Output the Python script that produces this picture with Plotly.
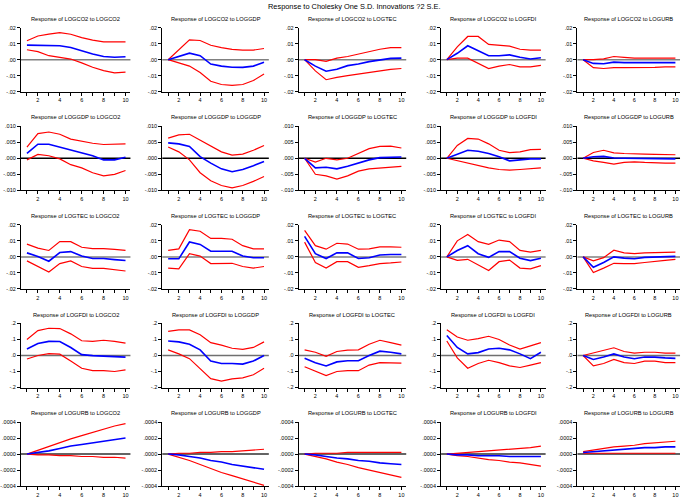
import plotly.graph_objects as go
from plotly.subplots import make_subplots

periods = list(range(1, 11))
variables = ['LOGCO2', 'LOGGDP', 'LOGTEC', 'LOGFDI', 'LOGURB']

# y tick values / labels per response row
row_ticks = [
    ([-0.02, -0.01, 0, 0.01, 0.02], ['-.02', '-.01', '.00', '.01', '.02']),
    ([-0.01, -0.005, 0, 0.005, 0.01], ['-.010', '-.005', '.000', '.005', '.010']),
    ([-0.02, -0.01, 0, 0.01, 0.02], ['-.02', '-.01', '.00', '.01', '.02']),
    ([-0.2, -0.1, 0, 0.1, 0.2], ['-.2', '-.1', '.0', '.1', '.2']),
    ([-0.0004, -0.0002, 0, 0.0002, 0.0004], ['-.0004', '-.0002', '.0000', '.0002', '.0004']),
]

# impulse responses (blue) and +/- 2 S.E. bands (red), [row][col]
resp = [
    [
        [.0091, .0091, .0089, .0087, .0076, .0056, .0035, .0020, .0015, .0018],
        [0, .002, .0041, .0025, -.0027, -.004, -.0047, -.0048, -.004, -.0016],
        [0, -.004, -.0072, -.006, -.0037, -.0027, -.0012, 0, .0008, .001],
        [0, .004, .0087, .0056, .0025, .0025, .003, .0015, .0004, .0012],
        [0, -.0023, -.0025, -.0015, -.0018, -.0018, -.002, -.002, -.0018, -.0018],
    ],
    [
        [.0015, .0044, .0044, .0035, .0025, .0015, .0008, -.0005, -.0005, .0003],
        [.0048, .0045, .0037, .0005, -.0015, -.0033, -.0042, -.0035, -.0023, -.001],
        [0, -.003, -.0028, -.0033, -.0025, -.0015, -.0005, .0002, .0004, .0004],
        [0, .0013, .0025, .0022, .0015, .0005, -.0008, -.0005, -.0002, -.0002],
        [0, .0005, .0006, .0001, 0, 0, 0, -.0002, -.0002, -.0002],
    ],
    [
        [.0025, .0002, -.0027, .0027, .0033, .0005, -.001, -.001, -.0017, -.0023],
        [-.0012, -.0012, .0093, .0078, .0035, .0035, .0035, .0005, -.0005, -.0005],
        [.0128, .002, -.001, .0025, .0025, -.001, -.0005, .0012, .0015, .0015],
        [0, .004, .007, .002, -.0003, .0033, .0033, -.0008, -.0023, -.0008],
        [0, -.0065, -.0035, 0, -.0008, -.0012, -.0003, 0, .0003, .0003],
    ],
    [
        [.04, .075, .088, .087, .05, .005, -.001, -.003, -.007, -.01],
        [.09, .085, .07, .035, -.035, -.05, -.05, -.054, -.035, 0],
        [-.018, -.045, -.065, -.04, -.033, -.033, 0, .027, .02, .01],
        [.125, .05, .01, .018, .04, .045, .035, .01, -.02, .02],
        [0, -.025, -.01, .01, -.01, -.02, -.01, -.01, -.015, -.018],
    ],
    [
        [0, .00002, .00004, .00007, .0001, .00012, .00014, .00016, .00018, .0002],
        [0, -.00001, -.00003, -.00005, -.00008, -.0001, -.00013, -.00015, -.00017, -.00019],
        [0, -.00001, -.00003, -.00005, -.00006, -.00008, -.00009, -.00011, -.00012, -.00013],
        [0, -.00001, -.00001, -.00002, -.00002, -.00002, -.00003, -.00003, -.00003, -.00003],
        [.00002, .00003, .00004, .00005, .00006, .00007, .00008, .00008, .00009, .00009],
    ],
]

upper = [
    [
        [.0118, .0148, .016, .0169, .0159, .0138, .0122, .0111, .0111, .0111],
        [0, .006, .0124, .012, .009, .0075, .0065, .006, .006, .007],
        [0, 0, -.001, .001, .002, .0035, .005, .0065, .0075, .0075],
        [0, .008, .0145, .0145, .0095, .009, .0085, .0065, .006, .006],
        [0, 0, .0005, .002, .0015, .001, .001, .001, .0008, .001],
    ],
    [
        [.0035, .0077, .0082, .0075, .006, .0053, .0047, .0043, .0043, .0045],
        [.0063, .0073, .0075, .0057, .004, .002, .001, .0013, .0025, .004],
        [0, -.0012, 0, -.0005, 0, .0015, .003, .0037, .0038, .0032],
        [0, .004, .0062, .006, .0045, .0025, .0018, .002, .0027, .0028],
        [0, .0018, .0025, .0017, .0015, .0015, .0013, .0012, .0011, .0011],
    ],
    [
        [.008, .0055, .004, .0095, .0095, .006, .0052, .0052, .0047, .004],
        [.004, .005, .017, .016, .0115, .0115, .011, .007, .005, .005],
        [.0165, .007, .0048, .0085, .008, .0048, .005, .0062, .0062, .006],
        [0, .01, .014, .0095, .0078, .0105, .0095, .004, .003, .004],
        [0, -.0025, -.0005, .0042, .0025, .002, .0025, .0027, .0027, .003],
    ],
    [
        [.1, .155, .17, .168, .135, .092, .088, .095, .088, .077],
        [.15, .16, .16, .13, .08, .065, .045, .038, .05, .085],
        [.035, .02, -.005, .025, .033, .035, .07, .095, .08, .065],
        [.16, .115, .095, .105, .12, .1, .065, .04, .06, .08],
        [0, .015, .03, .048, .025, .015, .02, .02, .015, .015],
    ],
    [
        [0, .00005, .0001, .00014, .00019, .00023, .00027, .00031, .00035, .00038],
        [0, .00001, .00001, .00002, .00002, .00003, .00003, .00004, .00005, .00006],
        [0, .00001, .00001, .00001, .00002, .00002, .00002, .00002, .00002, .00002],
        [0, .00001, .00002, .00003, .00004, .00005, .00006, .00007, .00008, .0001],
        [.00003, .00005, .00007, .00009, .0001, .00011, .00013, .00014, .00015, .00016],
    ],
]

lower = [
    [
        [.0062, .005, .0025, .0014, .0004, -.002, -.0047, -.0068, -.0082, -.0078],
        [0, -.002, -.004, -.008, -.0135, -.0155, -.016, -.0155, -.013, -.009],
        [0, -.007, -.0125, -.011, -.01, -.009, -.008, -.0068, -.006, -.0055],
        [0, .001, .001, -.002, -.0055, -.004, -.003, -.0045, -.0045, -.0035],
        [0, -.005, -.0055, -.005, -.005, -.005, -.005, -.0048, -.0045, -.0045],
    ],
    [
        [-.0005, .0012, .0008, -.0002, -.002, -.003, -.0045, -.0055, -.005, -.0038],
        [.0035, .002, -.0005, -.0045, -.007, -.0085, -.0092, -.0085, -.0072, -.0057],
        [0, -.005, -.0055, -.0065, -.0055, -.004, -.0033, -.003, -.0028, -.0025],
        [0, -.0008, -.0015, -.0022, -.003, -.0035, -.0037, -.0035, -.0033, -.003],
        [0, -.0008, -.0013, -.0018, -.0013, -.0011, -.0013, -.0015, -.0015, -.0015],
    ],
    [
        [-.0025, -.006, -.0095, -.0042, -.0025, -.006, -.0072, -.0072, -.008, -.0088],
        [-.007, -.0075, .002, .0005, -.0042, -.004, -.004, -.006, -.007, -.006],
        [.0092, -.0035, -.007, -.003, -.003, -.0065, -.0055, -.0042, -.0038, -.0032],
        [0, -.0022, -.0015, -.005, -.0085, -.003, -.002, -.007, -.0075, -.0055],
        [0, -.0098, -.007, -.004, -.0042, -.0042, -.0035, -.003, -.0022, -.0015],
    ],
    [
        [-.022, 0, .012, .008, -.035, -.08, -.095, -.095, -.1, -.09],
        [.035, .01, -.02, -.08, -.145, -.16, -.146, -.14, -.12, -.08],
        [-.07, -.1, -.125, -.1, -.095, -.095, -.06, -.045, -.045, -.048],
        [.09, -.015, -.08, -.05, -.03, -.045, -.065, -.075, -.06, -.045],
        [0, -.065, -.05, -.025, -.045, -.05, -.035, -.035, -.045, -.045],
    ],
    [
        [0, -.00001, -.00001, -.00002, -.00002, -.00003, -.00003, -.00004, -.00004, -.00005],
        [0, -.00004, -.00008, -.00013, -.00018, -.00023, -.00027, -.00031, -.00035, -.00039],
        [0, -.00003, -.00006, -.0001, -.00013, -.00017, -.0002, -.00023, -.00026, -.00029],
        [0, -.00002, -.00003, -.00005, -.00007, -.00008, -.0001, -.00011, -.00013, -.00015],
        [.00001, .00001, .00001, .00001, .00001, .00001, .00001, .00001, .00001, .00001],
    ],
]

W, H = 685, 498
col_px = [(18, 128), (160, 267), (297, 405), (440, 545), (577, 680)]
zero_colors = ['#808080', '#000000', '#808080', '#707070', '#303030']

fig = make_subplots(rows=5, cols=5)

for r in range(5):
    for c in range(5):
        fig.add_trace(go.Scatter(x=periods, y=upper[r][c], mode='lines',
                                 line=dict(color='#ff0000', width=1.2)), row=r + 1, col=c + 1)
        fig.add_trace(go.Scatter(x=periods, y=lower[r][c], mode='lines',
                                 line=dict(color='#ff0000', width=1.2)), row=r + 1, col=c + 1)
        fig.add_trace(go.Scatter(x=periods, y=resp[r][c], mode='lines',
                                 line=dict(color='#0000ff', width=1.6)), row=r + 1, col=c + 1)
        fig.add_hline(y=0, line_color=zero_colors[r], line_width=1.5, layer='below',
                      row=r + 1, col=c + 1)

        top = 25 + 100 * r
        bot = 90 + 100 * r
        x0, x1 = col_px[c]
        fig.update_xaxes(domain=[x0 / W, x1 / W], row=r + 1, col=c + 1)
        fig.update_yaxes(domain=[1 - bot / H, 1 - top / H], row=r + 1, col=c + 1)
        tv, tt = row_ticks[r]
        fig.update_yaxes(range=[tv[0], tv[-1]], tickvals=tv, ticktext=tt, row=r + 1, col=c + 1)

        fig.add_annotation(
            text=f'Response of {variables[r]} to {variables[c]}',
            x=(x0 + x1) / 2 / W, y=1 - (top - 9) / H,
            xref='paper', yref='paper', showarrow=False,
            font=dict(size=5.7, color='black'), xanchor='center', yanchor='middle',
        )

fig.add_annotation(
    text='Response to Cholesky One S.D. Innovations ?2 S.E.',
    x=353 / W, y=1 - 4 / H, xref='paper', yref='paper', showarrow=False,
    font=dict(size=7.4, color='black'), xanchor='center', yanchor='middle',
)

fig.update_xaxes(
    range=[0.45, 10.45],
    tickvals=periods,
    ticktext=['' if p % 2 else str(p) for p in periods],
    showgrid=False, zeroline=False,
    showline=True, linewidth=1, linecolor='black',
    ticks='outside', ticklen=3, tickwidth=1, tickcolor='black',
    tickfont=dict(size=5.5, color='black'),
)
fig.update_yaxes(
    showgrid=False, zeroline=False,
    showline=True, linewidth=1, linecolor='black',
    ticks='outside', ticklen=3, tickwidth=1, tickcolor='black',
    tickfont=dict(size=5.5, color='black'),
)

fig.update_layout(
    font=dict(family='Liberation Sans, Arial', size=7),
    plot_bgcolor='white',
    paper_bgcolor='white',
    width=W,
    height=H,
    margin=dict(t=0, b=0, l=0, r=0),
    showlegend=False,
)

# page has a default body margin; drop it so the figure sits at 0,0
fig.write_html(
    'out.html',
    config={'displayModeBar': False},
    post_script="document.body.style.margin='0';document.body.style.overflow='hidden';",
)
